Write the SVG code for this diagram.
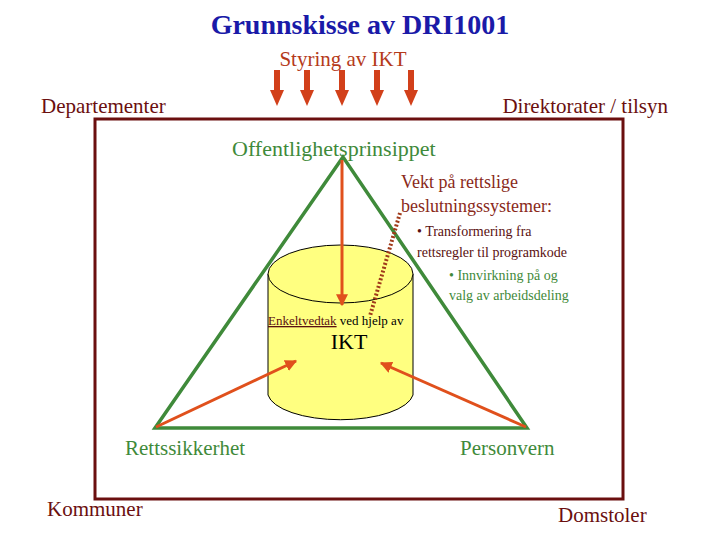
<svg xmlns="http://www.w3.org/2000/svg" width="720" height="540" viewBox="0 0 720 540">
<style>
text{font-family:"Liberation Serif",serif}
.m{fill:#6b0f0f}
.g{fill:#3f8a3a}
.b{fill:#8a2a1a}
.ar{stroke:#e0501c;stroke-width:3;fill:none}
</style>
<defs>
<marker id="h" viewBox="0 0 10 10" refX="9" refY="5" markerWidth="4" markerHeight="4" orient="auto"><path d="M0,0L10,5L0,10z" fill="#e0501c"/></marker>
<g id="da"><rect x="-3" y="0" width="6" height="22" fill="#d2401a"/><path d="M-7,20L7,20L0,36z" fill="#d2401a"/></g>
</defs>
<rect width="720" height="540" fill="#fff"/>
<text x="360" y="34" font-size="28" font-weight="bold" fill="#1a1aa8" text-anchor="middle">Grunnskisse av DRI1001</text>
<text x="343" y="66" font-size="21" fill="#b53a1a" text-anchor="middle">Styring av IKT</text>
<g id="topArrows"><use href="#da" x="277" y="70"/><use href="#da" x="307" y="70"/><use href="#da" x="342" y="70"/><use href="#da" x="377" y="70"/><use href="#da" x="411" y="70"/></g>
<text x="41" y="113" font-size="21" class="m">Departementer</text>
<text x="668" y="113" font-size="21" class="m" text-anchor="end">Direktorater / tilsyn</text>
<rect id="frame" x="95" y="119" width="528" height="380" fill="none" stroke="#6b0f0f" stroke-width="3"/>
<g id="cylinder">
<path d="M268,274 L268,395 A73,28 0 0 0 413,395 L413,274" fill="#ffff80" stroke="#000" stroke-width="1"/>
<ellipse cx="340.5" cy="274" rx="72.5" ry="29" fill="#ffff80" stroke="#000" stroke-width="1"/>
</g>
<polygon id="triangle" points="343,157 155,428 527,428" fill="none" stroke="#3f8a3a" stroke-width="3.5"/>
<g id="connectors">
<line x1="342" y1="160" x2="342" y2="305" class="ar" stroke-width="2" marker-end="url(#h)"/>
<line x1="156" y1="427" x2="296" y2="361" class="ar" marker-end="url(#h)"/>
<line x1="526" y1="427" x2="381" y2="363" class="ar" marker-end="url(#h)"/>
<line x1="400" y1="213" x2="370" y2="316" stroke="#a03a1a" stroke-width="4" stroke-dasharray="2,2"/>
</g>
<text x="232" y="156" font-size="22" class="g">Offentlighetsprinsippet</text>
<text x="401" y="188" font-size="18" class="b">Vekt på rettslige</text>
<text x="401" y="212" font-size="18" class="b">beslutningssystemer:</text>
<text x="417" y="236" font-size="14" fill="#5a1010">• Transformering fra</text>
<text x="417" y="257" font-size="14" fill="#5a1010">rettsregler til programkode</text>
<text x="449" y="280" font-size="14" class="g">• Innvirkning på og</text>
<text x="449" y="300" font-size="14" class="g">valg av arbeidsdeling</text>
<text x="268" y="325" font-size="13" fill="#000"><tspan text-decoration="underline" fill="#5a1010">Enkeltvedtak</tspan> ved hjelp av</text>
<text x="349" y="349" font-size="22" fill="#000" text-anchor="middle">IKT</text>
<text x="125" y="455" font-size="21" class="g">Rettssikkerhet</text>
<text x="460" y="455" font-size="21" class="g">Personvern</text>
<text x="47" y="516" font-size="21" class="m">Kommuner</text>
<text x="558" y="522" font-size="21" class="m">Domstoler</text>
</svg>
